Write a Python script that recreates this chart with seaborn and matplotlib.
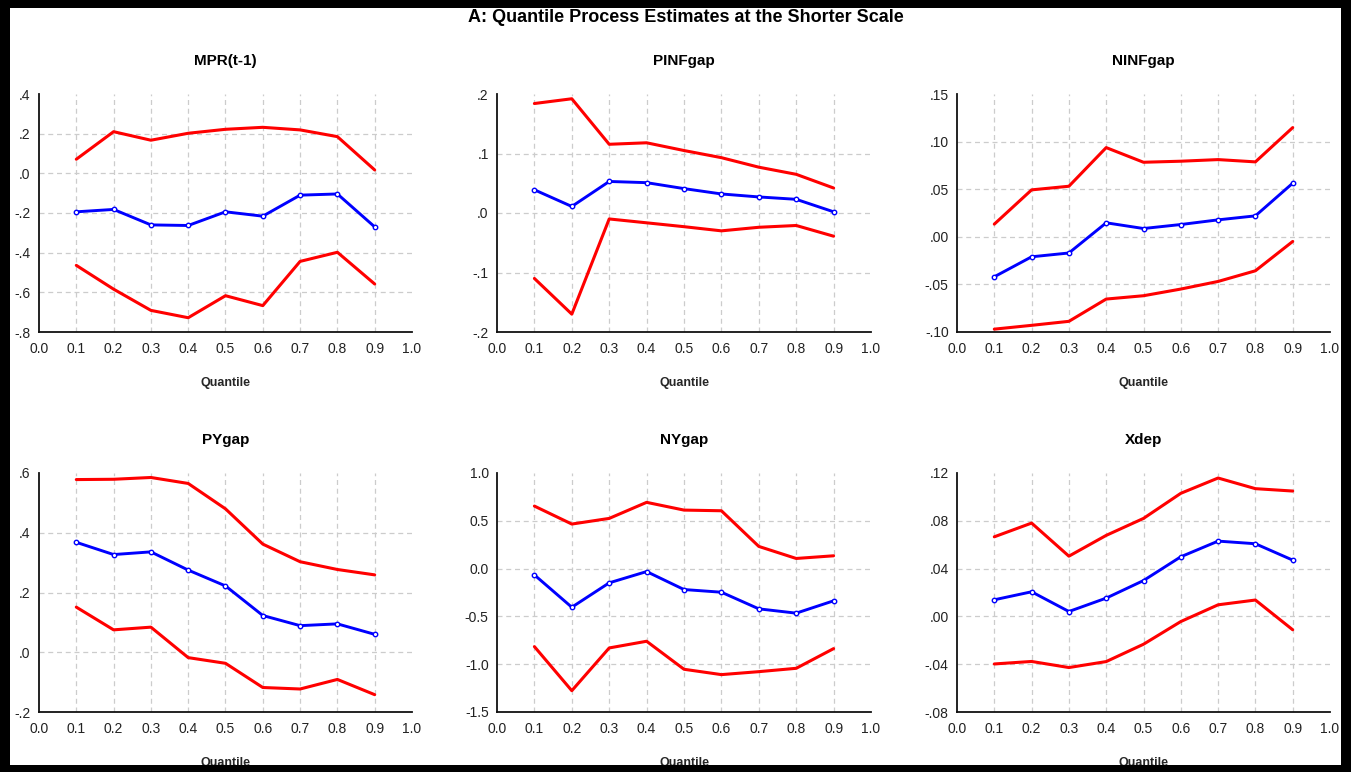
import matplotlib
matplotlib.use("Agg")
import matplotlib.pyplot as plt
import seaborn as sns
import numpy as np
from matplotlib.ticker import FuncFormatter, FixedLocator
from matplotlib.patches import Rectangle

sns.set_style("white")
plt.rcParams["font.family"] = ["Liberation Sans", "DejaVu Sans"]

quantiles = [0.1, 0.2, 0.3, 0.4, 0.5, 0.6, 0.7, 0.8, 0.9]

panel_titles = ["MPR(t-1)", "PINFgap", "NINFgap", "PYgap", "NYgap", "Xdep"]

# Point estimates (blue) and confidence bounds (red)
mpr_est = [-0.194, -0.182, -0.260, -0.263, -0.194, -0.216, -0.110, -0.104, -0.270]
mpr_up = [0.071, 0.210, 0.167, 0.202, 0.222, 0.232, 0.219, 0.185, 0.017]
mpr_lo = [-0.464, -0.584, -0.691, -0.728, -0.617, -0.667, -0.444, -0.398, -0.558]

pinf_est = [0.039, 0.011, 0.053, 0.051, 0.041, 0.032, 0.027, 0.023, 0.002]
pinf_up = [0.184, 0.192, 0.1155, 0.118, 0.105, 0.093, 0.077, 0.065, 0.042]
pinf_lo = [-0.110, -0.170, -0.010, -0.0165, -0.023, -0.030, -0.024, -0.021, -0.039]

ninf_est = [-0.042, -0.021, -0.017, 0.0147, 0.0087, 0.0129, 0.0178, 0.022, 0.0563]
ninf_up = [0.0133, 0.0493, 0.0531, 0.0937, 0.0783, 0.0794, 0.0811, 0.0787, 0.1147]
ninf_lo = [-0.097, -0.093, -0.0888, -0.0654, -0.0619, -0.0549, -0.0469, -0.0357, -0.0049]

py_est = [0.368, 0.327, 0.336, 0.275, 0.222, 0.123, 0.089, 0.095, 0.060]
py_up = [0.578, 0.579, 0.585, 0.565, 0.480, 0.362, 0.303, 0.277, 0.259]
py_lo = [0.151, 0.075, 0.084, -0.018, -0.037, -0.118, -0.123, -0.091, -0.142]

ny_est = [-0.066, -0.404, -0.149, -0.031, -0.219, -0.247, -0.421, -0.466, -0.337]
ny_up = [0.654, 0.466, 0.525, 0.693, 0.612, 0.605, 0.232, 0.106, 0.134]
ny_lo = [-0.816, -1.277, -0.830, -0.760, -1.053, -1.109, -1.078, -1.043, -0.837]

xdep_est = [0.0139, 0.0206, 0.0041, 0.0153, 0.030, 0.0499, 0.063, 0.0608, 0.0471]
xdep_up = [0.0666, 0.0781, 0.0504, 0.0678, 0.082, 0.103, 0.1158, 0.1069, 0.1049]
xdep_lo = [-0.0398, -0.0377, -0.0428, -0.0378, -0.0233, -0.0043, 0.0097, 0.0137, -0.0112]

x_ticks = [0.0, 0.1, 0.2, 0.3, 0.4, 0.5, 0.6, 0.7, 0.8, 0.9, 1.0]
y_ticks = [
    [0.4, 0.2, 0.0, -0.2, -0.4, -0.6, -0.8],
    [0.2, 0.1, 0.0, -0.1, -0.2],
    [0.15, 0.10, 0.05, 0.00, -0.05, -0.10],
    [0.6, 0.4, 0.2, 0.0, -0.2],
    [1.0, 0.5, 0.0, -0.5, -1.0, -1.5],
    [0.12, 0.08, 0.04, 0.00, -0.04, -0.08],
]
y_decimals = [1, 1, 2, 1, 1, 2]
strip_zero = [True, True, True, True, False, True]

series = [
    (mpr_est, mpr_up, mpr_lo),
    (pinf_est, pinf_up, pinf_lo),
    (ninf_est, ninf_up, ninf_lo),
    (py_est, py_up, py_lo),
    (ny_est, ny_up, ny_lo),
    (xdep_est, xdep_up, xdep_lo),
]

W, H = 1351, 772
fig = plt.figure(figsize=(W / 100, H / 100), dpi=100)
fig.patch.set_facecolor("white")

col_left = [39, 497, 957]
col_right = [412, 871, 1330]
row_top = [94, 473]
row_bot = [332, 712]


def make_formatter(dec, strip):
    def fmt(v, pos):
        s = f"{v:.{dec}f}"
        if s.startswith("-") and float(s) == 0:
            s = s[1:]
        if strip:
            if s.startswith("0."):
                s = s[1:]
            elif s.startswith("-0."):
                s = "-" + s[2:]
        return s
    return fmt


for i, (est, up, lo) in enumerate(series):
    r, c = divmod(i, 3)
    l = col_left[c] / W
    b = 1 - row_bot[r] / H
    w = (col_right[c] - col_left[c]) / W
    h = (row_bot[r] - row_top[r]) / H
    ax = fig.add_axes([l, b, w, h])

    yt = y_ticks[i]
    ymax, ymin = yt[0], yt[-1]

    # interior dashed grid
    for xv in x_ticks[1:-1]:
        ax.axvline(xv, color="#cccccc", lw=0.9, ls=(0, (4, 3)), zorder=0)
    for yv in yt[1:-1]:
        ax.axhline(yv, color="#cccccc", lw=0.9, ls=(0, (4, 3)), zorder=0)

    sns.lineplot(x=quantiles, y=up, ax=ax, color="#ff0000", lw=2.2, zorder=3)
    sns.lineplot(x=quantiles, y=lo, ax=ax, color="#ff0000", lw=2.2, zorder=3)
    sns.lineplot(x=quantiles, y=est, ax=ax, color="#0000ff", lw=2.1, zorder=4,
                 marker="o", markersize=3.2, markerfacecolor="white",
                 markeredgecolor="#0000ff", markeredgewidth=1.0)

    ax.set_xlim(0.0, 1.0)
    ax.set_ylim(ymin, ymax)
    ax.xaxis.set_major_locator(FixedLocator(x_ticks))
    ax.yaxis.set_major_locator(FixedLocator(yt))
    ax.xaxis.set_major_formatter(FuncFormatter(lambda v, p: f"{v:.1f}"))
    ax.yaxis.set_major_formatter(FuncFormatter(make_formatter(y_decimals[i], strip_zero[i])))

    for side in ["top", "right"]:
        ax.spines[side].set_visible(False)
    for side in ["left", "bottom"]:
        ax.spines[side].set_color("#111111")
        ax.spines[side].set_linewidth(1.3)
    ax.tick_params(axis="both", direction="out", length=5, width=1.1,
                   color="#111111", labelsize=10, labelcolor="#222222", pad=2)
    ax.tick_params(axis="y", pad=1)
    ax.set_facecolor("white")

    ax.set_title(panel_titles[i], fontsize=11, fontweight="bold", pad=21,
                 color="black")
    ax.set_xlabel("Quantile", fontsize=9, fontweight="bold", labelpad=15)
    ax.set_ylabel("")

fig.text(686 / W, 1 - 18 / H, "A: Quantile Process Estimates at the Shorter Scale",
         ha="center", va="center", fontsize=13, fontweight="bold", color="black")

# black frame around the figure
frame = [
    (0, 0, 10 / W, 1),
    (1 - 10 / W, 0, 10 / W, 1),
    (0, 1 - 8 / H, 1, 8 / H),
    (0, 0, 1, 7 / H),
]
for (x0, y0, fw, fh) in frame:
    fig.patches.append(Rectangle((x0, y0), fw, fh, transform=fig.transFigure,
                                 facecolor="black", edgecolor="none", zorder=20))

fig.savefig("out.png", dpi=100, facecolor="white")
